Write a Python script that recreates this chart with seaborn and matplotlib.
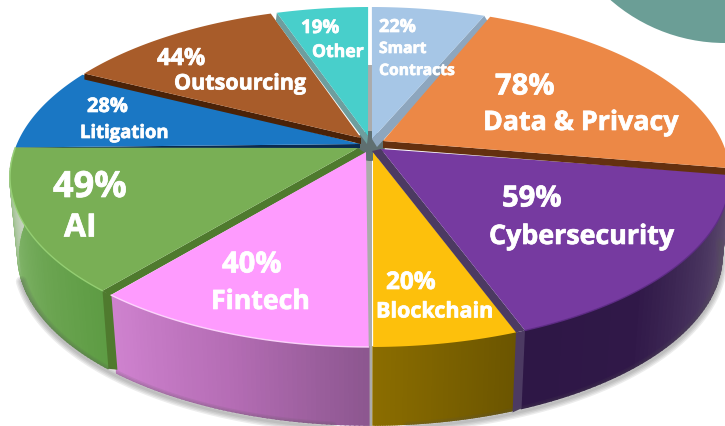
import numpy as np
import matplotlib
matplotlib.use("Agg")
import matplotlib.pyplot as plt
import matplotlib.patheffects as pe
from matplotlib.patches import Circle, Rectangle
import seaborn as sns

sns.set_theme(style="white")
plt.rcParams['font.family'] = ['Open Sans', 'DejaVu Sans']

# data, clockwise from 12 o'clock
topics = ['Smart\nContracts', 'Data & Privacy', 'Cybersecurity', 'Blockchain', 'Fintech',
          'AI', 'Litigation', 'Outsourcing', 'Other']
percents = [22, 78, 59, 20, 40, 49, 28, 44, 19]
arc_from = [89.7, 70.5, 1, -66, -136, -138, 170, 142.5, 105]
arc_to = [71.5, 3, -64.5, -89.5, -90.2, -190, 143, 106, 90.3]
top_colors = ['#A6C6E6', '#EC8846', '#763AA0', '#FDC00C', '#FE9BFE',
              '#79AF55', '#1A77C4', '#A85C2A', '#48CFCB']

# layout, in pixels of the picture
CX, CY, RX, RY = 370, 178, 360, 170
BX, BY, BRX, BRY = 370, 256, 352, 170
apex = [(372, 140), (383, 142), (381, 150), (373, 153), (366, 153),
        (358, 149), (360, 145), (361, 139), (368, 137)]

# the slice walls, colours run along the arc
walls = {
    2: ['#6B5A78', '#4A3660', '#301848', '#2E1746'],
    3: ['#6B5500', '#8B6D00'],
    4: ['#CF82CF', '#B56DB5', '#8D5790'],
    5: ['#5E9C44', '#6CA552', '#7FB368', '#C5D2BE'],
}
# dark faces showing along one straight edge: which arc end, dx, dy, colour
bands = {
    0: (arc_to[0], 5, 8, '#8DA6BE'),
    1: (arc_to[1], 0, 7, '#64300F'),
    2: (arc_to[2], -9, 2, '#4C3A62'),
    5: (arc_from[5], 7, 5, '#4F7A2E'),
    6: (arc_from[6], 0, 4, '#0A2A50'),
    7: (arc_from[7], 0, 6, '#4A2208'),
    8: (arc_from[8], -1, 8, '#6E9E9E'),
}
rim_lines = {4: '#FFDCFF', 5: '#98D276', 2: '#5E2C86'}
draw_order = [6, 7, 8, 5, 4, 3, 2, 0, 1]

# x, y, size of the percent line
pct_text = [(379, 28, 13), (495, 88, 21), (502, 200, 21), (386, 284, 17.5), (222, 266, 21),
            (53, 189, 26), (87, 108, 14.4), (157, 60, 17), (301, 29, 13.5)]
# x, y, size of the topic line
name_text = [(379, 50, 11.3), (483, 124, 19.3), (489, 238, 19.3), (376, 313, 15.5), (211, 303, 19.2),
             (64, 229, 23), (80, 134, 13.3), (174, 85, 15.5), (312, 53, 12.7)]

outline = [pe.withStroke(linewidth=0.5, foreground='white')]


def on_rim(theta, cx=CX, cy=CY, rx=RX, ry=RY):
    t = np.radians(theta)
    return cx + rx * np.cos(t), cy - ry * np.sin(t)


fig = plt.figure(figsize=(7.25, 4.27), dpi=100)
ax = fig.add_axes([0, 0, 1, 1])
ax.set_xlim(0, 725)
ax.set_ylim(427, 0)
ax.axis('off')

ax.add_patch(Circle((725, -130), 174, color='#6B9E96', lw=0))

# soft shadow under the pie
arc = np.linspace(-172, 5, 200)
sx, sy = on_rim(arc, BX, BY + 3, BRX, BRY)
for lw in [8, 6, 4, 2]:
    ax.plot(sx, sy, color='#555555', alpha=0.11, lw=lw, solid_capstyle='round')

ax.add_patch(Rectangle((365.5, 66), 7, 361, color='#ABABAB', lw=0))
# dark hub where the slices meet
ax.add_patch(Circle((370, 147), 15, color='#5F6F70', lw=0))

for i, stops in walls.items():
    steps = np.linspace(arc_from[i], arc_to[i], 61)
    shades = sns.blend_palette(stops, 60)
    for k in range(60):
        th = np.array([steps[k], steps[k + 1]])
        tx, ty = on_rim(th)
        bx, by = on_rim(th[::-1], BX, BY, BRX, BRY)
        ax.fill(np.r_[tx, bx], np.r_[ty, by], facecolor=shades[k], edgecolor=shades[k], lw=1.2)

# cut faces at the ends of the walls
x0, y0 = on_rim(arc_from[5])
x1, y1 = on_rim(arc_from[5], BX, BY, BRX, BRY)
ax.fill([x0, x0 + 9, x1 + 9, x1], [y0, y0 + 5, y1 + 1, y1], color='#4F7A2E', lw=0)
x0, y0 = on_rim(arc_to[2])
x1, y1 = on_rim(arc_to[2], BX, BY, BRX, BRY)
ax.fill([x0, x0 - 9, x1 - 9, x1], [y0, y0 + 2, y1 + 4, y1], color='#4C3A62', lw=0)

for i in draw_order:
    ax_, ay_ = apex[i]
    if i in bands:
        th, dx, dy, col = bands[i]
        rx_, ry_ = on_rim(th)
        ax.fill([ax_, rx_, rx_ + dx, ax_ + dx], [ay_, ry_, ry_ + dy, ay_ + dy], color=col, lw=0)
    px, py = on_rim(np.linspace(arc_from[i], arc_to[i], 120))
    ax.fill(np.r_[ax_, px], np.r_[ay_, py], color=top_colors[i], lw=0)
    if i in rim_lines:
        ax.plot(px, py, color=rim_lines[i], lw=1, alpha=0.9)

for i, (x, y, size) in enumerate(pct_text):
    ax.text(x, y, f'{percents[i]}%', color='white', fontsize=size, fontweight='bold',
            ha='left', va='center', path_effects=outline)

# topic names sit under their percents
for i, (x, y, size) in enumerate(name_text):
    for j, part in enumerate(topics[i].split('\n')):
        ax.text(x, y + j * 22, part, color='white', fontsize=size, fontweight='bold',
                ha='left', va='center', path_effects=outline)

fig.savefig('out.png', dpi=100)
